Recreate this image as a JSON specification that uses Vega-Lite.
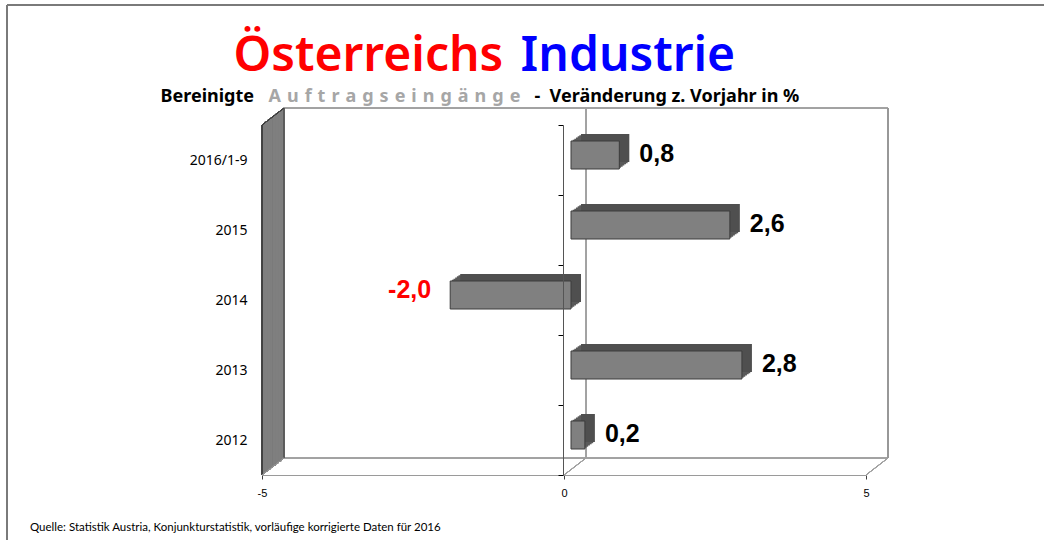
{
  "$schema": "https://vega.github.io/schema/vega-lite/v6.json",
  "width": 604,
  "height": 350,
  "autosize": {"type": "none"},
  "padding": {"left": 262, "top": 125, "right": 178, "bottom": 65},
  "background": "white",
  "config": {
    "view": {"stroke": null},
    "font": "Noto Sans",
    "locale": {"number": {"decimal": ",", "thousands": ".", "grouping": [3], "currency": ["", " €"], "minus": "-"}},
    "axis": {"grid": false}
  },
  "title": {
    "text": "Quelle: Statistik Austria, Konjunkturstatistik, vorläufige korrigierte Daten für 2016",
    "orient": "bottom", "anchor": "start", "frame": "group", "dx": -232, "offset": -19,
    "baseline": "top",
    "font": "Lato", "fontSize": 11.5, "fontWeight": "normal", "color": "#000000"
  },
  "data": {"values": [
    {"period": "2016/1-9", "value": 0.8},
    {"period": "2015", "value": 2.63},
    {"period": "2014", "value": -2.0},
    {"period": "2013", "value": 2.83},
    {"period": "2012", "value": 0.23}
  ]},
  "resolve": {"axis": {"x": "independent", "y": "independent"}},
  "layer": [
    {"mark": {"type": "rule", "color": "#7a7a7a", "strokeWidth": 2, "xOffset": -255, "x2Offset": 178, "yOffset": -120},
     "encoding": {"x": {"datum": -5, "type": "quantitative", "axis": null}, "x2": {"datum": 5},
                  "y": {"datum": "2016/1-9", "type": "nominal", "bandPosition": 0, "axis": null}}},
    {"mark": {"type": "rule", "color": "#7a7a7a", "strokeWidth": 2, "xOffset": -255, "yOffset": -120, "y2Offset": 65},
     "encoding": {"x": {"datum": -5, "type": "quantitative", "axis": null},
                  "y": {"datum": "2016/1-9", "type": "nominal", "bandPosition": 0, "axis": null},
                  "y2": {"datum": "2012", "bandPosition": 1}}},

    {"mark": {"type": "rule", "color": "#a0a0a0", "strokeWidth": 1, "xOffset": 22, "x2Offset": 22, "yOffset": -17},
     "encoding": {"x": {"datum": -5, "type": "quantitative", "axis": null}, "x2": {"datum": 5},
                  "y": {"datum": "2016/1-9", "type": "nominal", "bandPosition": 0, "axis": null}}},
    {"mark": {"type": "rule", "color": "#a0a0a0", "strokeWidth": 1, "xOffset": 22, "x2Offset": 22, "yOffset": -17},
     "encoding": {"x": {"datum": -5, "type": "quantitative", "axis": null}, "x2": {"datum": 5},
                  "y": {"datum": "2012", "type": "nominal", "bandPosition": 1, "axis": null}}},
    {"mark": {"type": "rule", "color": "#a0a0a0", "strokeWidth": 1, "xOffset": 22, "yOffset": -17, "y2Offset": -17},
     "encoding": {"x": {"datum": 0, "type": "quantitative", "axis": null},
                  "y": {"datum": "2016/1-9", "type": "nominal", "bandPosition": 0, "axis": null},
                  "y2": {"datum": "2012", "bandPosition": 1}}},
    {"mark": {"type": "rule", "color": "#999999", "strokeWidth": 1.5, "xOffset": 22, "yOffset": -17, "y2Offset": -17},
     "encoding": {"x": {"datum": 5, "type": "quantitative", "axis": null},
                  "y": {"datum": "2016/1-9", "type": "nominal", "bandPosition": 0, "axis": null},
                  "y2": {"datum": "2012", "bandPosition": 1}}},
    {"mark": {"type": "rule", "color": "#a0a0a0", "strokeWidth": 1, "x2Offset": 22, "y2Offset": -17},
     "encoding": {"x": {"datum": 0, "type": "quantitative", "axis": null}, "x2": {"datum": 0},
                  "y": {"datum": "2012", "type": "nominal", "bandPosition": 1, "axis": null},
                  "y2": {"datum": "2012", "bandPosition": 1}}},
    {"mark": {"type": "rule", "color": "#a0a0a0", "strokeWidth": 1, "x2Offset": 22, "y2Offset": -17},
     "encoding": {"x": {"datum": 5, "type": "quantitative", "axis": null}, "x2": {"datum": 5},
                  "y": {"datum": "2012", "type": "nominal", "bandPosition": 1, "axis": null},
                  "y2": {"datum": "2012", "bandPosition": 1}}},

    {"mark": {"type": "rule", "color": "#7f7f7f", "strokeWidth": 2.8, "strokeCap": "butt", "xOffset": 1.4, "yOffset": -1.1, "y2Offset": -1.1},
     "encoding": {"x": {"datum": -5, "type": "quantitative", "axis": null}, "y": {"datum": "2016/1-9", "type": "nominal", "bandPosition": 0, "axis": null}, "y2": {"datum": "2012", "bandPosition": 1}}},
    {"mark": {"type": "rule", "color": "#7f7f7f", "strokeWidth": 2.8, "strokeCap": "butt", "xOffset": 4.1, "yOffset": -3.2, "y2Offset": -3.2},
     "encoding": {"x": {"datum": -5, "type": "quantitative", "axis": null}, "y": {"datum": "2016/1-9", "type": "nominal", "bandPosition": 0, "axis": null}, "y2": {"datum": "2012", "bandPosition": 1}}},
    {"mark": {"type": "rule", "color": "#7f7f7f", "strokeWidth": 2.8, "strokeCap": "butt", "xOffset": 6.9, "yOffset": -5.3, "y2Offset": -5.3},
     "encoding": {"x": {"datum": -5, "type": "quantitative", "axis": null}, "y": {"datum": "2016/1-9", "type": "nominal", "bandPosition": 0, "axis": null}, "y2": {"datum": "2012", "bandPosition": 1}}},
    {"mark": {"type": "rule", "color": "#7f7f7f", "strokeWidth": 2.8, "strokeCap": "butt", "xOffset": 9.6, "yOffset": -7.4, "y2Offset": -7.4},
     "encoding": {"x": {"datum": -5, "type": "quantitative", "axis": null}, "y": {"datum": "2016/1-9", "type": "nominal", "bandPosition": 0, "axis": null}, "y2": {"datum": "2012", "bandPosition": 1}}},
    {"mark": {"type": "rule", "color": "#7f7f7f", "strokeWidth": 2.8, "strokeCap": "butt", "xOffset": 12.4, "yOffset": -9.6, "y2Offset": -9.6},
     "encoding": {"x": {"datum": -5, "type": "quantitative", "axis": null}, "y": {"datum": "2016/1-9", "type": "nominal", "bandPosition": 0, "axis": null}, "y2": {"datum": "2012", "bandPosition": 1}}},
    {"mark": {"type": "rule", "color": "#7f7f7f", "strokeWidth": 2.8, "strokeCap": "butt", "xOffset": 15.1, "yOffset": -11.7, "y2Offset": -11.7},
     "encoding": {"x": {"datum": -5, "type": "quantitative", "axis": null}, "y": {"datum": "2016/1-9", "type": "nominal", "bandPosition": 0, "axis": null}, "y2": {"datum": "2012", "bandPosition": 1}}},
    {"mark": {"type": "rule", "color": "#7f7f7f", "strokeWidth": 2.8, "strokeCap": "butt", "xOffset": 17.9, "yOffset": -13.8, "y2Offset": -13.8},
     "encoding": {"x": {"datum": -5, "type": "quantitative", "axis": null}, "y": {"datum": "2016/1-9", "type": "nominal", "bandPosition": 0, "axis": null}, "y2": {"datum": "2012", "bandPosition": 1}}},
    {"mark": {"type": "rule", "color": "#7f7f7f", "strokeWidth": 2.8, "strokeCap": "butt", "xOffset": 20.6, "yOffset": -15.9, "y2Offset": -15.9},
     "encoding": {"x": {"datum": -5, "type": "quantitative", "axis": null}, "y": {"datum": "2016/1-9", "type": "nominal", "bandPosition": 0, "axis": null}, "y2": {"datum": "2012", "bandPosition": 1}}},

    {"mark": {"type": "rule", "color": "#404040", "strokeWidth": 1},
     "encoding": {"x": {"datum": -5, "type": "quantitative", "axis": null}, "y": {"datum": "2016/1-9", "type": "nominal", "bandPosition": 0, "axis": null}, "y2": {"datum": "2012", "bandPosition": 1}}},
    {"mark": {"type": "rule", "color": "#5a5a5a", "strokeWidth": 1, "xOffset": 22, "yOffset": -17, "y2Offset": -17},
     "encoding": {"x": {"datum": -5, "type": "quantitative", "axis": null}, "y": {"datum": "2016/1-9", "type": "nominal", "bandPosition": 0, "axis": null}, "y2": {"datum": "2012", "bandPosition": 1}}},
    {"mark": {"type": "rule", "color": "#404040", "strokeWidth": 1, "x2Offset": 22, "y2Offset": -17},
     "encoding": {"x": {"datum": -5, "type": "quantitative", "axis": null}, "x2": {"datum": -5},
                  "y": {"datum": "2016/1-9", "type": "nominal", "bandPosition": 0, "axis": null}, "y2": {"datum": "2016/1-9", "bandPosition": 0}}},
    {"mark": {"type": "rule", "color": "#909090", "strokeWidth": 1, "x2Offset": 22, "y2Offset": -17},
     "encoding": {"x": {"datum": -5, "type": "quantitative", "axis": null}, "x2": {"datum": -5},
                  "y": {"datum": "2012", "type": "nominal", "bandPosition": 1, "axis": null}, "y2": {"datum": "2012", "bandPosition": 1}}},

    {"mark": {"type": "bar", "height": 28, "fill": "#5a5a5a", "xOffset": 8.7, "x2Offset": 8.7, "yOffset": -6.2, "y2Offset": -6.2},
     "encoding": {"x": {"field": "value", "type": "quantitative", "axis": null}, "x2": {"datum": 0}, "y": {"field": "period", "type": "nominal", "axis": null}}},
    {"mark": {"type": "bar", "height": 28, "fill": "#5a5a5a", "xOffset": 10.3, "x2Offset": 10.3, "yOffset": -7.3, "y2Offset": -7.3},
     "encoding": {"x": {"field": "value", "type": "quantitative", "axis": null}, "x2": {"datum": 0}, "y": {"field": "period", "type": "nominal", "axis": null}}},
    {"mark": {"type": "bar", "height": 28, "fill": "#5a5a5a", "xOffset": 12, "x2Offset": 12, "yOffset": -8.5, "y2Offset": -8.5},
     "encoding": {"x": {"field": "value", "type": "quantitative", "axis": null}, "x2": {"datum": 0}, "y": {"field": "period", "type": "nominal", "axis": null}}},
    {"mark": {"type": "bar", "height": 28, "fill": "#5a5a5a", "xOffset": 13.7, "x2Offset": 13.7, "yOffset": -9.7, "y2Offset": -9.7},
     "encoding": {"x": {"field": "value", "type": "quantitative", "axis": null}, "x2": {"datum": 0}, "y": {"field": "period", "type": "nominal", "axis": null}}},
    {"mark": {"type": "bar", "height": 28, "fill": "#5a5a5a", "xOffset": 15.3, "x2Offset": 15.3, "yOffset": -10.8, "y2Offset": -10.8},
     "encoding": {"x": {"field": "value", "type": "quantitative", "axis": null}, "x2": {"datum": 0}, "y": {"field": "period", "type": "nominal", "axis": null}}},
    {"mark": {"type": "bar", "height": 28, "fill": "#4f4f4f", "xOffset": 17, "x2Offset": 17, "yOffset": -12, "y2Offset": -12},
     "encoding": {"x": {"field": "value", "type": "quantitative", "axis": null}, "x2": {"datum": 0}, "y": {"field": "period", "type": "nominal", "axis": null}}},

    {"mark": {"type": "bar", "height": 28, "fill": "#808080", "stroke": "#3c3c3c", "strokeWidth": 1, "xOffset": 7, "x2Offset": 7, "yOffset": -5, "y2Offset": -5},
     "encoding": {
       "x": {"field": "value", "type": "quantitative",
             "scale": {"domain": [-5, 5], "nice": false, "zero": false},
             "axis": {"orient": "bottom", "values": [-5, 0, 5], "format": "d", "title": null,
                      "domainColor": "#9a9a9a", "domainWidth": 1, "tickColor": "#404040", "tickSize": 4,
                      "labelFont": "Liberation Sans", "labelFontSize": 11, "labelColor": "#000000",
                      "labelPadding": 8, "labelFlush": false, "grid": false}},
       "x2": {"datum": 0},
       "y": {"field": "period", "type": "nominal",
             "scale": {"domain": ["2016/1-9", "2015", "2014", "2013", "2012"], "paddingInner": 0, "paddingOuter": 0},
             "axis": {"orient": "left", "offset": -301, "tickBand": "extent", "tickSize": 5, "tickColor": "#000000",
                      "domainColor": "#555555", "labelPadding": 311, "labelFont": "Noto Sans", "labelFontSize": 14,
                      "labelColor": "#000000", "zindex": 1, "grid": false,
                      "title": "A\u2004u\u2004f\u2004t\u2004r\u2004a\u2004g\u2004s\u2004e\u2004i\u2004n\u2004g\u2004ä\u2004n\u2004g\u2004e", "titleColor": "#a6a6a6", "titleFont": "Noto Sans",
                      "titleFontSize": 18, "titleFontWeight": "bold", "titleAngle": 0, "titleAlign": "left",
                      "titleBaseline": "alphabetic", "titleX": -295, "titleY": -24, "titleLimit": 2000}}
     }},

    {"transform": [{"filter": "datum.value >= 0"}],
     "mark": {"type": "text", "align": "left", "baseline": "middle", "dx": 27, "dy": -6, "font": "Liberation Sans", "fontSize": 25, "fontWeight": "bold", "color": "#000000"},
     "encoding": {"x": {"field": "value", "type": "quantitative", "axis": null}, "y": {"field": "period", "type": "nominal", "axis": null},
                  "text": {"field": "value", "type": "quantitative", "format": ".1f"}}},
    {"transform": [{"filter": "datum.value < 0"}],
     "mark": {"type": "text", "align": "right", "baseline": "middle", "dx": -12, "dy": -10, "font": "Liberation Sans", "fontSize": 25, "fontWeight": "bold", "color": "#ff0000"},
     "encoding": {"x": {"field": "value", "type": "quantitative", "axis": null}, "y": {"field": "period", "type": "nominal", "axis": null},
                  "text": {"field": "value", "type": "quantitative", "format": ".1f"}}},

    {"mark": {"type": "point", "opacity": 0},
     "encoding": {
       "x": {"field": "value", "type": "quantitative",
             "axis": {"orient": "top", "labels": false, "ticks": false, "domain": false, "grid": false,
                      "title": "Österreichs", "titleColor": "#ff0000", "titleFont": "Noto Sans", "titleFontSize": 48,
                      "titleFontWeight": 600, "titleAngle": 0, "titleAlign": "left", "titleBaseline": "alphabetic",
                      "titleX": -29, "titleY": -55, "titleLimit": 2000}},
       "y": {"field": "period", "type": "nominal",
             "axis": {"orient": "right", "labels": false, "ticks": false, "domain": false, "grid": false,
                      "title": "Industrie", "titleColor": "#0000ff", "titleFont": "Noto Sans", "titleFontSize": 48,
                      "titleFontWeight": 600, "titleAngle": 0, "titleAlign": "left", "titleBaseline": "alphabetic",
                      "titleX": -346, "titleY": -55, "titleLimit": 2000}}
     }},
    {"mark": {"type": "point", "opacity": 0},
     "encoding": {
       "x": {"field": "value", "type": "quantitative",
             "axis": {"orient": "top", "labels": false, "ticks": false, "domain": false, "grid": false,
                      "title": "Bereinigte", "titleColor": "#000000", "titleFont": "Noto Sans", "titleFontSize": 18,
                      "titleFontWeight": "bold", "titleAngle": 0, "titleAlign": "left", "titleBaseline": "alphabetic",
                      "titleX": -102, "titleY": -24, "titleLimit": 2000}},
       "y": {"field": "period", "type": "nominal",
             "axis": {"orient": "right", "labels": false, "ticks": false, "domain": false, "grid": false,
                      "title": "-\u00a0\u00a0Veränderung z. Vorjahr in %", "titleColor": "#000000", "titleFont": "Noto Sans", "titleFontSize": 18,
                      "titleFontWeight": "bold", "titleAngle": 0, "titleAlign": "left", "titleBaseline": "alphabetic",
                      "titleX": -332, "titleY": -24, "titleLimit": 2000}}
     }}
  ]
}
